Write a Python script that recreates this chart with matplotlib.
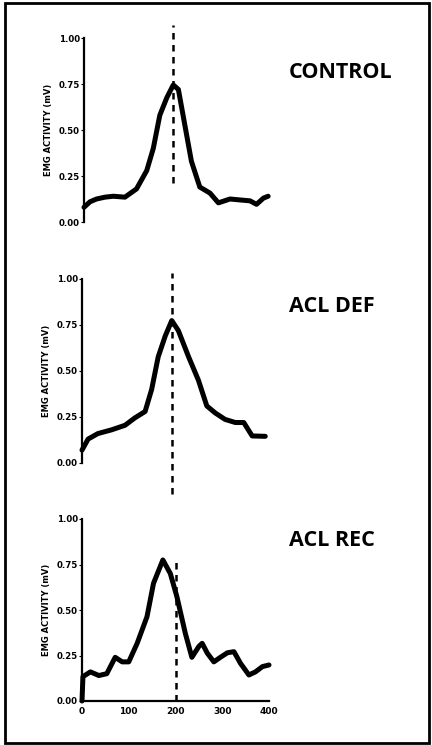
import matplotlib
matplotlib.use('Agg')
import matplotlib.pyplot as plt
from matplotlib.patches import Rectangle

# EMG traces (time in ms, activity in mV)
ctrl_x = [0, 13, 27, 45, 63, 88, 113, 135, 149, 163, 178, 192, 203, 217, 231,
          249, 271, 289, 314, 335, 357, 371, 386, 396]
ctrl_y = [0.08, 0.11, 0.125, 0.135, 0.14, 0.135, 0.18, 0.28, 0.40, 0.58, 0.675,
          0.745, 0.72, 0.525, 0.33, 0.19, 0.157, 0.104, 0.125, 0.12, 0.115,
          0.096, 0.13, 0.14]

def_x = [0, 13, 34, 63, 92, 113, 135, 149, 163, 178, 192, 206, 228, 249, 267,
         285, 306, 328, 346, 364, 392]
def_y = [0.07, 0.13, 0.16, 0.18, 0.205, 0.245, 0.28, 0.40, 0.577, 0.69, 0.774,
         0.72, 0.577, 0.45, 0.31, 0.272, 0.237, 0.22, 0.22, 0.147, 0.145]

rec_x = [0, 2, 18, 36, 53, 71, 86, 100, 118, 139, 153, 173, 189, 203, 221, 235,
         250, 257, 268, 282, 296, 311, 325, 339, 357, 371, 386, 400]
rec_y = [0.0, 0.134, 0.16, 0.14, 0.15, 0.24, 0.215, 0.215, 0.317, 0.463, 0.647,
         0.775, 0.70, 0.573, 0.372, 0.24, 0.30, 0.317, 0.263, 0.215, 0.24, 0.265,
         0.271, 0.207, 0.143, 0.16, 0.189, 0.198]

names = ['CONTROL', 'ACL DEF', 'ACL REC']
traces = [(ctrl_x, ctrl_y), (def_x, def_y), (rec_x, rec_y)]
marker_x = [192, 192, 200]
marker_span = [(0.21, 1.07), (-0.17, 1.03), (0.0, 0.775)]
yticks = [0, 0.25, 0.5, 0.75, 1.0]
ytick_labels = ['0.00', '0.25', '0.50', '0.75', '1.00']
xticks = [0, 100, 200, 300, 400]

W, H = 432, 745
fig = plt.figure(figsize=(W / 100, H / 100), dpi=100)

# axes boxes in pixels: left, y of 0.00, width, height
boxes = [(84, 222, 186, 184), (82, 463, 187, 184), (82, 701, 187, 182)]
title_y = [72, 307, 540]

for i in range(3):
    l, y0, w, h = boxes[i]
    ax = fig.add_axes([l / W, 1 - y0 / H, w / W, h / H])
    xs, ys = traces[i]
    ax.plot(xs, ys, color='black', lw=3.6, solid_joinstyle='round',
            solid_capstyle='round', clip_on=False)
    lo, hi = marker_span[i]
    ax.plot([marker_x[i], marker_x[i]], [lo, hi], color='black', lw=1.8,
            linestyle=(0, (2.6, 2.2)), clip_on=False)
    ax.set_xlim(0, 400)
    ax.set_ylim(0, 1.0)
    for s in ['top', 'right']:
        ax.spines[s].set_visible(False)
    ax.spines['left'].set_linewidth(1.6)
    ax.set_yticks(yticks)
    ax.set_yticklabels(ytick_labels, fontsize=6.2, fontweight='bold')
    ax.tick_params(axis='y', length=2, width=0.8, pad=1)
    if i < 2:
        ax.spines['bottom'].set_visible(False)
        ax.set_xticks([])
    else:
        ax.spines['bottom'].set_linewidth(1.6)
        ax.set_xticks(xticks)
        ax.set_xticklabels([str(t) for t in xticks], fontsize=6.5, fontweight='bold')
        ax.tick_params(axis='x', length=0, pad=4)
    ax.set_ylabel('EMG ACTIVITY (mV)', fontsize=6, fontweight='bold', labelpad=4)
    ax.patch.set_alpha(0)
    fig.text(289 / W, 1 - title_y[i] / H, names[i], fontsize=15.5,
             fontweight='bold', family='Open Sans', va='center', ha='left')

# outer frame
fig.patches.append(Rectangle((5 / W, 2 / H), 424 / W, 740 / H, transform=fig.transFigure,
                             fill=False, edgecolor='black', lw=2))

fig.savefig('out.png', dpi=100)
